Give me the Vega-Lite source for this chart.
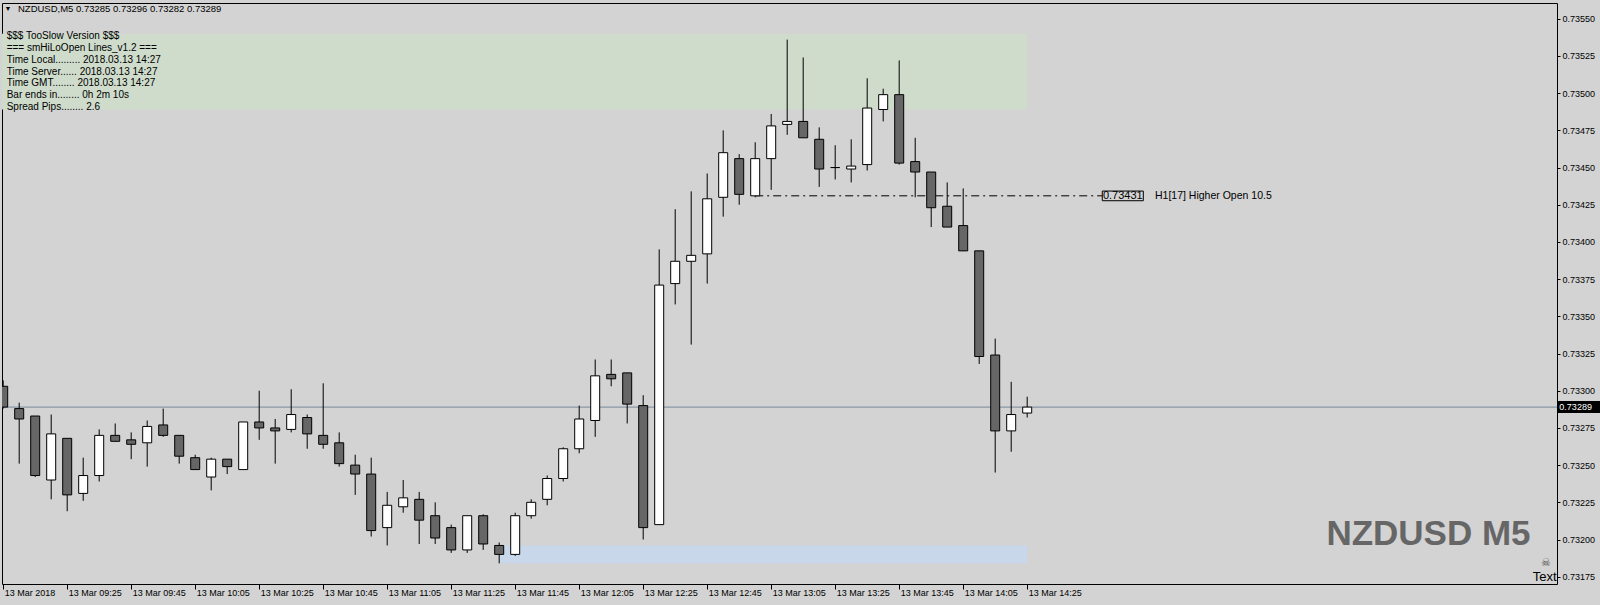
{
  "$schema": "https://vega.github.io/schema/vega-lite/v6.json",
  "width": 1555,
  "height": 581,
  "autosize": "none",
  "padding": {"left": 2, "top": 3, "right": 43, "bottom": 21},
  "background": "#d3d3d3",
  "config": {
    "view": {"stroke": "#000000", "strokeWidth": 1},
    "scale": {"continuousPadding": 0},
    "axis": {"domain": false, "grid": false, "title": null, "labelFont": "Liberation Sans", "labelFontSize": 9, "labelColor": "#000000", "tickColor": "#000000", "labelOverlap": false}
  },
  "resolve": {"axis": {"y": "independent"}},
  "datasets": {
    "candles": [
      {"t": "2018-03-13T09:05:00", "o": 0.73303, "h": 0.73307, "l": 0.73288, "c": 0.73289},
      {"t": "2018-03-13T09:10:00", "o": 0.73288, "h": 0.73292, "l": 0.73251, "c": 0.73281},
      {"t": "2018-03-13T09:15:00", "o": 0.73283, "h": 0.73283, "l": 0.73242, "c": 0.73243},
      {"t": "2018-03-13T09:20:00", "o": 0.73240, "h": 0.73284, "l": 0.73227, "c": 0.73271},
      {"t": "2018-03-13T09:25:00", "o": 0.73268, "h": 0.73268, "l": 0.73219, "c": 0.73230},
      {"t": "2018-03-13T09:30:00", "o": 0.73231, "h": 0.73255, "l": 0.73226, "c": 0.73243},
      {"t": "2018-03-13T09:35:00", "o": 0.73243, "h": 0.73274, "l": 0.73239, "c": 0.73270},
      {"t": "2018-03-13T09:40:00", "o": 0.73270, "h": 0.73278, "l": 0.73266, "c": 0.73266},
      {"t": "2018-03-13T09:45:00", "o": 0.73267, "h": 0.73272, "l": 0.73254, "c": 0.73264},
      {"t": "2018-03-13T09:50:00", "o": 0.73265, "h": 0.73280, "l": 0.73249, "c": 0.73276},
      {"t": "2018-03-13T09:55:00", "o": 0.73277, "h": 0.73288, "l": 0.73269, "c": 0.73270},
      {"t": "2018-03-13T10:00:00", "o": 0.73270, "h": 0.73270, "l": 0.73251, "c": 0.73256},
      {"t": "2018-03-13T10:05:00", "o": 0.73255, "h": 0.73257, "l": 0.73247, "c": 0.73247},
      {"t": "2018-03-13T10:10:00", "o": 0.73242, "h": 0.73255, "l": 0.73233, "c": 0.73254},
      {"t": "2018-03-13T10:15:00", "o": 0.73254, "h": 0.73254, "l": 0.73244, "c": 0.73249},
      {"t": "2018-03-13T10:20:00", "o": 0.73247, "h": 0.73279, "l": 0.73247, "c": 0.73279},
      {"t": "2018-03-13T10:25:00", "o": 0.73279, "h": 0.73300, "l": 0.73267, "c": 0.73275},
      {"t": "2018-03-13T10:30:00", "o": 0.73275, "h": 0.73281, "l": 0.73251, "c": 0.73273},
      {"t": "2018-03-13T10:35:00", "o": 0.73274, "h": 0.73301, "l": 0.73272, "c": 0.73284},
      {"t": "2018-03-13T10:40:00", "o": 0.73282, "h": 0.73284, "l": 0.73261, "c": 0.73271},
      {"t": "2018-03-13T10:45:00", "o": 0.73270, "h": 0.73305, "l": 0.73261, "c": 0.73264},
      {"t": "2018-03-13T10:50:00", "o": 0.73265, "h": 0.73272, "l": 0.73249, "c": 0.73251},
      {"t": "2018-03-13T10:55:00", "o": 0.73250, "h": 0.73257, "l": 0.73230, "c": 0.73244},
      {"t": "2018-03-13T11:00:00", "o": 0.73244, "h": 0.73255, "l": 0.73202, "c": 0.73206},
      {"t": "2018-03-13T11:05:00", "o": 0.73208, "h": 0.73232, "l": 0.73196, "c": 0.73223},
      {"t": "2018-03-13T11:10:00", "o": 0.73222, "h": 0.73240, "l": 0.73218, "c": 0.73228},
      {"t": "2018-03-13T11:15:00", "o": 0.73227, "h": 0.73232, "l": 0.73197, "c": 0.73213},
      {"t": "2018-03-13T11:20:00", "o": 0.73216, "h": 0.73225, "l": 0.73197, "c": 0.73201},
      {"t": "2018-03-13T11:25:00", "o": 0.73208, "h": 0.73210, "l": 0.73191, "c": 0.73193},
      {"t": "2018-03-13T11:30:00", "o": 0.73193, "h": 0.73216, "l": 0.73191, "c": 0.73216},
      {"t": "2018-03-13T11:35:00", "o": 0.73216, "h": 0.73217, "l": 0.73193, "c": 0.73197},
      {"t": "2018-03-13T11:40:00", "o": 0.73196, "h": 0.73198, "l": 0.73184, "c": 0.73190},
      {"t": "2018-03-13T11:45:00", "o": 0.73190, "h": 0.73218, "l": 0.73189, "c": 0.73216},
      {"t": "2018-03-13T11:50:00", "o": 0.73216, "h": 0.73227, "l": 0.73214, "c": 0.73225},
      {"t": "2018-03-13T11:55:00", "o": 0.73227, "h": 0.73243, "l": 0.73223, "c": 0.73241},
      {"t": "2018-03-13T12:00:00", "o": 0.73241, "h": 0.73262, "l": 0.73239, "c": 0.73261},
      {"t": "2018-03-13T12:05:00", "o": 0.73261, "h": 0.73290, "l": 0.73258, "c": 0.73281},
      {"t": "2018-03-13T12:10:00", "o": 0.73280, "h": 0.73321, "l": 0.73269, "c": 0.73310},
      {"t": "2018-03-13T12:15:00", "o": 0.73311, "h": 0.73321, "l": 0.73303, "c": 0.73308},
      {"t": "2018-03-13T12:20:00", "o": 0.73312, "h": 0.73312, "l": 0.73278, "c": 0.73291},
      {"t": "2018-03-13T12:25:00", "o": 0.73290, "h": 0.73297, "l": 0.73200, "c": 0.73208},
      {"t": "2018-03-13T12:30:00", "o": 0.73210, "h": 0.73395, "l": 0.73210, "c": 0.73371},
      {"t": "2018-03-13T12:35:00", "o": 0.73372, "h": 0.73422, "l": 0.73358, "c": 0.73387},
      {"t": "2018-03-13T12:40:00", "o": 0.73387, "h": 0.73434, "l": 0.73331, "c": 0.73391},
      {"t": "2018-03-13T12:45:00", "o": 0.73392, "h": 0.73446, "l": 0.73372, "c": 0.73429},
      {"t": "2018-03-13T12:50:00", "o": 0.73430, "h": 0.73475, "l": 0.73417, "c": 0.73460},
      {"t": "2018-03-13T12:55:00", "o": 0.73456, "h": 0.73459, "l": 0.73425, "c": 0.73432},
      {"t": "2018-03-13T13:00:00", "o": 0.73431, "h": 0.73467, "l": 0.73430, "c": 0.73456},
      {"t": "2018-03-13T13:05:00", "o": 0.73456, "h": 0.73486, "l": 0.73435, "c": 0.73478},
      {"t": "2018-03-13T13:10:00", "o": 0.73479, "h": 0.73536, "l": 0.73472, "c": 0.73481},
      {"t": "2018-03-13T13:15:00", "o": 0.73481, "h": 0.73524, "l": 0.73470, "c": 0.73470},
      {"t": "2018-03-13T13:20:00", "o": 0.73469, "h": 0.73477, "l": 0.73437, "c": 0.73449},
      {"t": "2018-03-13T13:25:00", "o": 0.73450, "h": 0.73465, "l": 0.73442, "c": 0.73450},
      {"t": "2018-03-13T13:30:00", "o": 0.73449, "h": 0.73469, "l": 0.73440, "c": 0.73451},
      {"t": "2018-03-13T13:35:00", "o": 0.73452, "h": 0.73510, "l": 0.73448, "c": 0.73490},
      {"t": "2018-03-13T13:40:00", "o": 0.73489, "h": 0.73503, "l": 0.73481, "c": 0.73499},
      {"t": "2018-03-13T13:45:00", "o": 0.73499, "h": 0.73522, "l": 0.73452, "c": 0.73453},
      {"t": "2018-03-13T13:50:00", "o": 0.73454, "h": 0.73470, "l": 0.73430, "c": 0.73447},
      {"t": "2018-03-13T13:55:00", "o": 0.73447, "h": 0.73447, "l": 0.73410, "c": 0.73423},
      {"t": "2018-03-13T14:00:00", "o": 0.73424, "h": 0.73440, "l": 0.73410, "c": 0.73410},
      {"t": "2018-03-13T14:05:00", "o": 0.73411, "h": 0.73436, "l": 0.73394, "c": 0.73394},
      {"t": "2018-03-13T14:10:00", "o": 0.73394, "h": 0.73394, "l": 0.73318, "c": 0.73323},
      {"t": "2018-03-13T14:15:00", "o": 0.73324, "h": 0.73335, "l": 0.73245, "c": 0.73273},
      {"t": "2018-03-13T14:20:00", "o": 0.73273, "h": 0.73306, "l": 0.73259, "c": 0.73284},
      {"t": "2018-03-13T14:25:00", "o": 0.73285, "h": 0.73296, "l": 0.73282, "c": 0.73289}
    ],
    "notes": [
      {"kind": "green", "t": "2018-03-13T08:00:00", "t2": "2018-03-13T14:25:00", "p": 0.73540, "p2": 0.73489},
      {"kind": "blue", "t": "2018-03-13T11:40:00", "t2": "2018-03-13T14:25:00", "p": 0.73196, "p2": 0.73184},
      {"kind": "dashdot", "t": "2018-03-13T13:00:00", "t2": "2018-03-13T14:48:22", "p": 0.73431},
      {"kind": "box", "t": "2018-03-13T14:48:28", "t2": "2018-03-13T15:01:17", "p": 0.734342, "p2": 0.734277},
      {"kind": "boxtext", "t": "2018-03-13T14:54:52", "p": 0.734309, "text": "0.73431"},
      {"kind": "label", "t": "2018-03-13T15:04:56", "p": 0.734309, "text": "H1[17] Higher Open 10.5"},
      {"kind": "arrow", "t": "2018-03-13T09:06:30", "p": 0.735565, "text": "▼"},
      {"kind": "title", "t": "2018-03-13T09:09:37", "p": 0.735565, "text": "NZDUSD,M5  0.73285 0.73296 0.73282 0.73289"},
      {"kind": "info", "t": "2018-03-13T09:06:05", "p": 0.735384, "text": "$$$ TooSlow Version $$$"},
      {"kind": "info", "t": "2018-03-13T09:06:05", "p": 0.735304, "text": "=== smHiLoOpen Lines_v1.2 ==="},
      {"kind": "info", "t": "2018-03-13T09:06:05", "p": 0.735225, "text": "Time Local......... 2018.03.13 14:27"},
      {"kind": "info", "t": "2018-03-13T09:06:05", "p": 0.735145, "text": "Time Server...... 2018.03.13 14:27"},
      {"kind": "info", "t": "2018-03-13T09:06:05", "p": 0.735066, "text": "Time GMT........ 2018.03.13 14:27"},
      {"kind": "info", "t": "2018-03-13T09:06:05", "p": 0.734986, "text": "Bar ends in........ 0h 2m 10s"},
      {"kind": "info", "t": "2018-03-13T09:06:05", "p": 0.734907, "text": "Spread Pips........ 2.6"},
      {"kind": "big", "t": "2018-03-13T16:30:24", "p": 0.731963, "text": "NZDUSD M5"},
      {"kind": "textlbl", "t": "2018-03-13T17:10:28", "p": 0.731721, "text": "Text"},
      {"kind": "skull", "t": "2018-03-13T17:07:04", "p": 0.731845, "text": "☠"},
      {"kind": "bidbox", "t": "2018-03-13T17:10:52", "t2": "2018-03-13T17:24:00", "p": 0.732931, "p2": 0.73285},
      {"kind": "bidtext", "t": "2018-03-13T17:11:18", "p": 0.73289, "text": "0.73289"}
    ]
  },
  "encoding": {
    "x": {"field": "t", "type": "temporal",
      "scale": {"domain": [{"year": 2018, "month": 3, "date": 13, "hours": 9, "minutes": 4, "seconds": 37, "milliseconds": 500}, {"year": 2018, "month": 3, "date": 13, "hours": 17, "minutes": 10, "seconds": 33, "milliseconds": 750}], "nice": false, "padding": 0},
      "axis": {"orient": "bottom", "tickSize": 5, "labelPadding": 3, "labelBaseline": "middle", "labelAlign": "left", "labelOffset": 1, "labelFlush": false, "labelOverlap": false, "labelBound": false,
        "values": [
          {"year": 2018, "month": 3, "date": 13, "hours": 9, "minutes": 5},
          {"year": 2018, "month": 3, "date": 13, "hours": 9, "minutes": 25},
          {"year": 2018, "month": 3, "date": 13, "hours": 9, "minutes": 45},
          {"year": 2018, "month": 3, "date": 13, "hours": 10, "minutes": 5},
          {"year": 2018, "month": 3, "date": 13, "hours": 10, "minutes": 25},
          {"year": 2018, "month": 3, "date": 13, "hours": 10, "minutes": 45},
          {"year": 2018, "month": 3, "date": 13, "hours": 11, "minutes": 5},
          {"year": 2018, "month": 3, "date": 13, "hours": 11, "minutes": 25},
          {"year": 2018, "month": 3, "date": 13, "hours": 11, "minutes": 45},
          {"year": 2018, "month": 3, "date": 13, "hours": 12, "minutes": 5},
          {"year": 2018, "month": 3, "date": 13, "hours": 12, "minutes": 25},
          {"year": 2018, "month": 3, "date": 13, "hours": 12, "minutes": 45},
          {"year": 2018, "month": 3, "date": 13, "hours": 13, "minutes": 5},
          {"year": 2018, "month": 3, "date": 13, "hours": 13, "minutes": 25},
          {"year": 2018, "month": 3, "date": 13, "hours": 13, "minutes": 45},
          {"year": 2018, "month": 3, "date": 13, "hours": 14, "minutes": 5},
          {"year": 2018, "month": 3, "date": 13, "hours": 14, "minutes": 25}
        ],
        "labelExpr": "timeFormat(datum.value, '%H:%M') == '09:05' ? '13 Mar 2018' : timeFormat(datum.value, '%d %b %H:%M')"}}
  },
  "layer": [
    {
      "data": {"name": "notes"},
      "transform": [{"filter": "datum.kind == 'green' || datum.kind == 'blue'"}],
      "mark": {"type": "rect", "clip": true},
      "encoding": {
        "x2": {"field": "t2"},
        "y": {"field": "p", "type": "quantitative",
          "scale": {"domain": [0.731701, 0.735606], "nice": false, "zero": false, "padding": 0},
          "axis": {"orient": "right", "format": ".5f", "tickSize": 3, "labelPadding": 2, "labelBaseline": "middle", "labelAlign": "left", "labelFlush": false, "labelOverlap": false, "labelBound": false,
            "values": [0.73175, 0.732, 0.73225, 0.7325, 0.73275, 0.733, 0.73325, 0.7335, 0.73375, 0.734, 0.73425, 0.7345, 0.73475, 0.735, 0.73525, 0.7355]}},
        "y2": {"field": "p2"},
        "color": {"field": "kind", "type": "nominal", "scale": {"domain": ["green", "blue"], "range": ["#cfdccc", "#c8d8ea"]}, "legend": null}
      }
    },
    {
      "data": {"name": "notes"},
      "transform": [{"filter": "datum.kind == 'info'"}],
      "mark": {"type": "text", "align": "left", "baseline": "middle", "font": "Liberation Sans", "fontSize": 10, "color": "#000000"},
      "encoding": {"y": {"field": "p", "type": "quantitative", "axis": null}, "text": {"field": "text"}}
    },
    {
      "data": {"name": "notes"},
      "transform": [{"filter": "datum.kind == 'bidtext'"}],
      "mark": {"type": "rule", "color": "#778899", "strokeWidth": 1},
      "encoding": {"x": {"datum": {"year": 2018, "month": 3, "date": 13, "hours": 9, "minutes": 4, "seconds": 37, "milliseconds": 500}, "type": "temporal"}, "x2": {"datum": {"year": 2018, "month": 3, "date": 13, "hours": 17, "minutes": 10, "seconds": 33, "milliseconds": 750}}, "y": {"field": "p", "type": "quantitative", "axis": null}}
    },
    {
      "data": {"name": "notes"},
      "transform": [{"filter": "datum.kind == 'dashdot'"}],
      "mark": {"type": "rule", "color": "#000000", "strokeWidth": 1, "strokeDash": [8, 4, 2, 4]},
      "encoding": {"x2": {"field": "t2"}, "y": {"field": "p", "type": "quantitative", "axis": null}}
    },
    {
      "data": {"name": "candles"},
      "mark": {"type": "rule", "color": "#000000", "strokeWidth": 1, "clip": true},
      "encoding": {"y": {"field": "l", "type": "quantitative", "axis": null}, "y2": {"field": "h"}}
    },
    {
      "data": {"name": "candles"},
      "mark": {"type": "bar", "width": 9, "stroke": "#000000", "strokeWidth": 1, "clip": true},
      "encoding": {
        "y": {"field": "o", "type": "quantitative", "axis": null},
        "y2": {"field": "c"},
        "fill": {"condition": {"test": "datum.c >= datum.o", "value": "#ffffff"}, "value": "#666666"}
      }
    },
    {
      "data": {"name": "notes"},
      "transform": [{"filter": "datum.kind == 'box'"}],
      "mark": {"type": "rect", "fill": "#d3d3d3", "stroke": "#000000", "strokeWidth": 1},
      "encoding": {"x2": {"field": "t2"}, "y": {"field": "p", "type": "quantitative", "axis": null}, "y2": {"field": "p2"}}
    },
    {
      "data": {"name": "notes"},
      "transform": [{"filter": "datum.kind == 'boxtext'"}],
      "mark": {"type": "text", "align": "center", "baseline": "middle", "font": "Liberation Sans", "fontSize": 11, "color": "#000000"},
      "encoding": {"y": {"field": "p", "type": "quantitative", "axis": null}, "text": {"field": "text"}}
    },
    {
      "data": {"name": "notes"},
      "transform": [{"filter": "datum.kind == 'label'"}],
      "mark": {"type": "text", "align": "left", "baseline": "middle", "font": "Liberation Sans", "fontSize": 10.5, "color": "#000000"},
      "encoding": {"y": {"field": "p", "type": "quantitative", "axis": null}, "text": {"field": "text"}}
    },
    {
      "data": {"name": "notes"},
      "transform": [{"filter": "datum.kind == 'title'"}],
      "mark": {"type": "text", "align": "left", "baseline": "middle", "font": "Liberation Sans", "fontSize": 9.5, "color": "#000000"},
      "encoding": {"y": {"field": "p", "type": "quantitative", "axis": null}, "text": {"field": "text"}}
    },
    {
      "data": {"name": "notes"},
      "transform": [{"filter": "datum.kind == 'arrow'"}],
      "mark": {"type": "text", "align": "center", "baseline": "middle", "font": "Liberation Sans", "fontSize": 7, "color": "#000000"},
      "encoding": {"y": {"field": "p", "type": "quantitative", "axis": null}, "text": {"field": "text"}}
    },
    {
      "data": {"name": "notes"},
      "transform": [{"filter": "datum.kind == 'big'"}],
      "mark": {"type": "text", "align": "center", "baseline": "alphabetic", "font": "Liberation Sans", "fontWeight": "bold", "fontSize": 35, "color": "#666666"},
      "encoding": {"y": {"field": "p", "type": "quantitative", "axis": null}, "text": {"field": "text"}}
    },
    {
      "data": {"name": "notes"},
      "transform": [{"filter": "datum.kind == 'textlbl'"}],
      "mark": {"type": "text", "align": "right", "baseline": "alphabetic", "font": "Liberation Sans", "fontSize": 13, "color": "#000000"},
      "encoding": {"y": {"field": "p", "type": "quantitative", "axis": null}, "text": {"field": "text"}}
    },
    {
      "data": {"name": "notes"},
      "transform": [{"filter": "datum.kind == 'skull'"}],
      "mark": {"type": "text", "align": "center", "baseline": "middle", "font": "DejaVu Sans", "fontSize": 11, "color": "#555555"},
      "encoding": {"y": {"field": "p", "type": "quantitative", "axis": null}, "text": {"field": "text"}}
    },
    {
      "data": {"name": "notes"},
      "transform": [{"filter": "datum.kind == 'bidbox'"}],
      "mark": {"type": "rect", "fill": "#000000"},
      "encoding": {"x2": {"field": "t2"}, "y": {"field": "p", "type": "quantitative", "axis": null}, "y2": {"field": "p2"}}
    },
    {
      "data": {"name": "notes"},
      "transform": [{"filter": "datum.kind == 'bidtext'"}],
      "mark": {"type": "text", "align": "left", "baseline": "middle", "font": "Liberation Sans", "fontSize": 9, "color": "#ffffff"},
      "encoding": {"y": {"field": "p", "type": "quantitative", "axis": null}, "text": {"field": "text"}}
    }
  ]
}
